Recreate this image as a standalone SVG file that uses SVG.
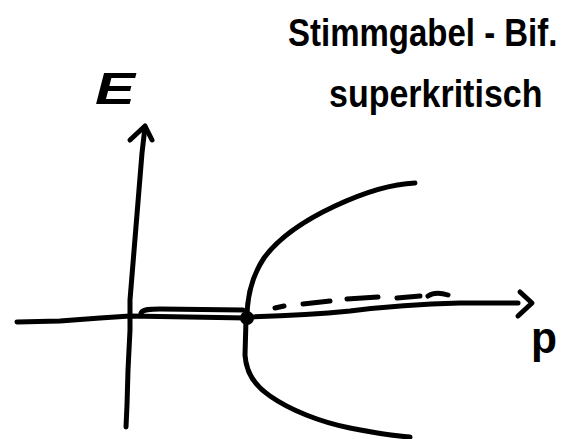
<svg xmlns="http://www.w3.org/2000/svg" width="572" height="439" viewBox="0 0 572 439">
<style>
.ink{fill:none;stroke:#000;stroke-width:5;stroke-linecap:round;stroke-linejoin:round}
.hand{font-family:"Liberation Sans","DejaVu Sans",sans-serif;fill:#000;font-weight:bold}
</style>
<rect width="572" height="439" fill="#fff"/>
<g id="connectors">
  <!-- E axis -->
  <path class="ink" d="M126,427 L127,405 L128,370 L130,330 L130,300 L142,153 L145,127"/>
  <path class="ink" d="M130,140 L145,126 L152,140"/>
  <!-- p axis left part and double line -->
  <path class="ink" d="M17,322 L60,321 L100,318 L130,316 L247,318"/>
  <path class="ink" d="M141,313 C143,309 150,309 160,309 L243,310"/>
  <!-- p axis right solid part -->
  <path class="ink" d="M247,317 C285,316 320,314 350,311 C390,306 420,304 460,303 L518,303"/>
  <path class="ink" d="M520,292 L532,303 L518,316"/>
  <!-- dashed unstable branch -->
  <path class="ink" d="M275,308 L284,306"/>
  <path class="ink" d="M303,304 L330,301"/>
  <path class="ink" d="M347,299 L378,297"/>
  <path class="ink" d="M397,298 L420,296"/>
  <path class="ink" d="M428,296 C434,292 442,293 448,295"/>
  <!-- pitchfork branches -->
  <path class="ink" d="M247,318 C247,296 252,276 264,258 C280,236 305,220 335,206 C365,192 390,184 415,183"/>
  <path class="ink" d="M246,320 L245,355 C246,372 255,386 270,396 C290,410 320,422 350,428 C375,433 395,436 410,437"/>
  <circle id="bifurcation" cx="247" cy="318" r="7" fill="#000"/>
</g>
<g id="label-E">
  <text class="hand" x="95" y="104" font-size="44" font-style="italic" textLength="40" lengthAdjust="spacingAndGlyphs">E</text>
</g>
<g id="label-p">
  <text class="hand" x="531" y="353" font-size="44" font-weight="normal" textLength="26" lengthAdjust="spacingAndGlyphs">p</text>
</g>
<g id="title">
  <text class="hand" font-size="33" transform="translate(288,46) scale(1,1.2)">Stimmgabel - Bif.</text>
  <text class="hand" font-size="34" transform="translate(329,107) scale(1,1.15)">superkritisch</text>
</g>
</svg>
